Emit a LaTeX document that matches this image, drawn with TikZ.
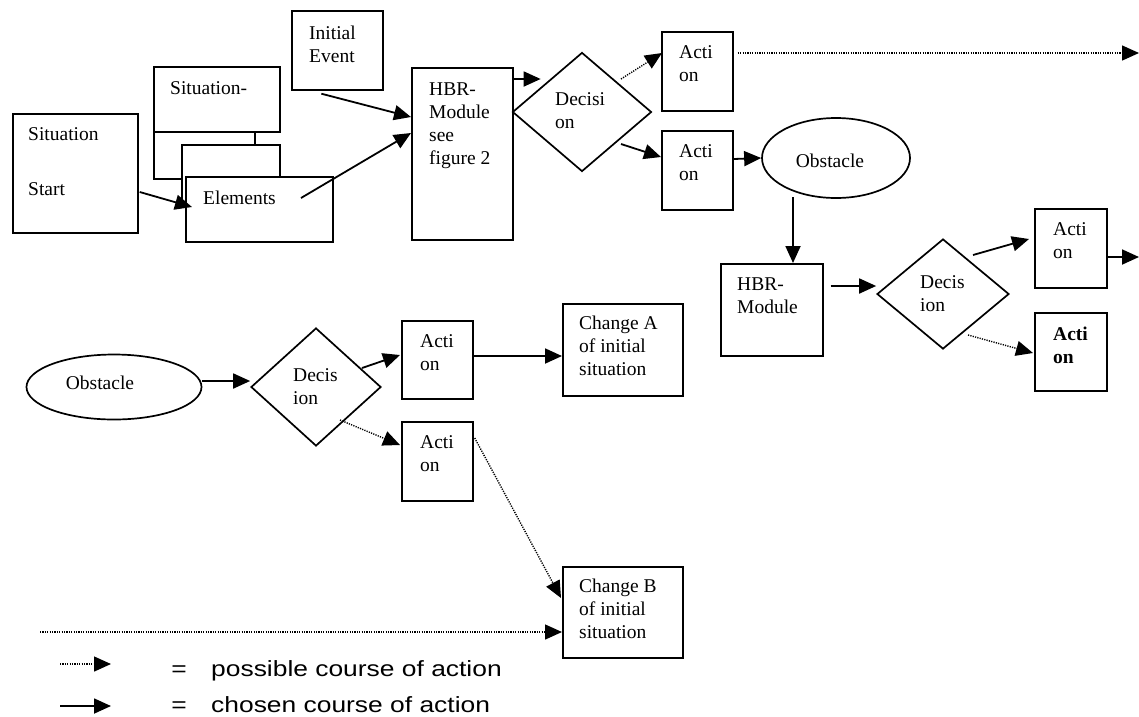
\documentclass[tikz,border=0pt]{standalone}
\usepackage{fontspec}
\setmainfont{Liberation Serif}
\newfontfamily\legendfont{Liberation Sans}
\usetikzlibrary{shapes.geometric,arrows.meta,calc}
\newcommand\mlines[1]{\vtop{\baselineskip=23pt\relax#1}}
\begin{document}
\begin{tikzpicture}[x=1pt,y=-1pt,
  font=\fontsize{19.5}{23}\selectfont,
  box/.style={draw, line width=1.7pt, fill=white, inner sep=0pt, anchor=north west},
  dia/.style={draw, diamond, line width=1.7pt, inner sep=0pt, fill=white},
  ell/.style={draw, ellipse, line width=1.7pt, inner sep=0pt, fill=white},
  txt/.style={inner sep=0pt, anchor=base west},
  chosen/.style={line width=1.8pt, -{Triangle[length=17pt,width=15pt]}},
  possible/.style={line width=1.4pt, dash pattern=on 1.2pt off 1.2pt, -{Triangle[length=17pt,width=15pt]}},
  legtxt/.style={inner sep=0pt, font=\legendfont\fontsize{22}{25}\selectfont}]
\useasboundingbox[fill=white] (0,0) rectangle (1139,716);

% ---- upper left cluster
\node[box, minimum width=125pt, minimum height=119pt] (start) at (12,113) {};
\node[txt] (tstart1) at (28,140) {Situation};
\node[txt] (tstart2) at (28,195) {Start};
\node[box, minimum width=101pt, minimum height=78pt] (sitback) at (153,100) {};
\node[box, minimum width=126pt, minimum height=65pt] (sit) at (153,66) {};
\node[txt] (tsit) at (170,94) {Situation-};
\node[box, minimum width=98pt, minimum height=62pt] (mid) at (181,144) {};
\node[box, minimum width=147pt, minimum height=65pt] (elem) at (185,176) {};
\node[txt] (telem) at (203,204) {Elements};
\node[box, minimum width=91pt, minimum height=79pt] (init) at (291,10) {};
\node[txt] (tinit) at (309,39.5) {\mlines{\hbox{Initial}\hbox{Event}}};
\node[box, minimum width=101pt, minimum height=172pt] (hbr1) at (411,67) {};
\node[txt] (thbr1) at (429,95) {\mlines{\hbox{HBR-}\hbox{Module}\hbox{see}\hbox{figure 2}}};
\node[dia, minimum width=139pt, minimum height=119pt] (dec1) at (582,112) {};
\node[txt] (tdec1) at (555,105) {\mlines{\hbox{Decisi}\hbox{on}}};
\node[box, minimum width=71pt, minimum height=79pt] (act1) at (661,31) {};
\node[txt] (tact1) at (679,58) {\mlines{\hbox{Acti}\hbox{on}}};
\node[box, minimum width=71pt, minimum height=79pt] (act2) at (661,130) {};
\node[txt] (tact2) at (679,157) {\mlines{\hbox{Acti}\hbox{on}}};
\node[ell, minimum width=148pt, minimum height=80pt] (obs1) at (836,158) {};
\node[inner sep=0pt, anchor=base] (tobs1) at (830,167) {Obstacle};

% ---- right part
\node[box, minimum width=102pt, minimum height=92pt] (hbr2) at (720,263) {};
\node[txt] (thbr2) at (737,290) {\mlines{\hbox{HBR-}\hbox{Module}}};
\node[dia, minimum width=132pt, minimum height=110pt] (dec2) at (943,294) {};
\node[txt] (tdec2) at (920,288) {\mlines{\hbox{Decis}\hbox{ion}}};
\node[box, minimum width=72pt, minimum height=79pt] (act3) at (1034,208) {};
\node[txt] (tact3) at (1053,235) {\mlines{\hbox{Acti}\hbox{on}}};
\node[box, line width=2.4pt, minimum width=72pt, minimum height=78pt] (act4) at (1034,312) {};
\node[txt, font=\fontsize{19.5}{23}\selectfont\bfseries] (tact4) at (1053,340) {\mlines{\hbox{Acti}\hbox{on}}};

% ---- lower left
\node[ell, minimum width=175pt, minimum height=65pt] (obs2) at (114,387) {};
\node[inner sep=0pt, anchor=base] (tobs2) at (100,389) {Obstacle};
\node[dia, minimum width=130pt, minimum height=118pt] (dec3) at (316,387) {};
\node[txt] (tdec3) at (293,381) {\mlines{\hbox{Decis}\hbox{ion}}};
\node[box, minimum width=71pt, minimum height=78pt] (act5) at (401,320) {};
\node[txt] (tact5) at (420,347) {\mlines{\hbox{Acti}\hbox{on}}};
\node[box, minimum width=120pt, minimum height=92pt] (chA) at (562,303) {};
\node[txt] (tchA) at (579,329) {\mlines{\hbox{Change A}\hbox{of initial}\hbox{situation}}};
\node[box, minimum width=71pt, minimum height=79pt] (act6) at (401,421) {};
\node[txt] (tact6) at (420,448) {\mlines{\hbox{Acti}\hbox{on}}};
\node[box, minimum width=120pt, minimum height=91pt] (chB) at (562,566) {};
\node[txt] (tchB) at (579,592) {\mlines{\hbox{Change B}\hbox{of initial}\hbox{situation}}};

% ---- free ends
\coordinate (outR1) at (1139,53);
\coordinate (outR2) at (1139,257);
\coordinate (inL) at (40,632);

% ---- connectors
\draw[chosen] ($(start.north east)+(1,79)$) -- ($(elem.north west)+(7,31)$);
\draw[chosen] ($(init.south)+(-16,3)$) -- ($(hbr1.north west)+(0,50)$);
\draw[chosen] ($(elem.north west)+(116,22)$) -- ($(hbr1.north west)+(0,66)$);
\draw[chosen] ($(hbr1.north east)+(0,12)$) -- ($(dec1.west)+(29,-33)$);
\draw[possible] ($(dec1.center)+(39,-33)$) -- ($(act1.north west)+(1,22)$);
\draw[chosen] ($(dec1.center)+(39,32)$) -- ($(act2.north west)+(0,27)$);
\draw[possible] ($(act1.north east)+(4,22)$) -- (outR1);
\draw[chosen] ($(act2.north east)+(0,29)$) -- (obs1.west);
\draw[chosen] ($(obs1.center)+(-43,39)$) -- ($(hbr2.north west)+(73,0)$);
\draw[chosen] ($(hbr2.north east)+(7,23)$) -- ($(dec2.west)+(0,-8)$);
\draw[chosen] ($(dec2.center)+(30,-39)$) -- ($(act3.north west)+(-5,31)$);
\draw[chosen] ($(act3.north east)+(0,49)$) -- (outR2);
\draw[possible] ($(dec2.center)+(25,41)$) -- ($(act4.north west)+(-1,41)$);
\draw[chosen] ($(obs2.east)+(0,-6)$) -- ($(dec3.west)+(0,-6)$);
\draw[chosen] ($(dec3.center)+(46,-19)$) -- ($(act5.north west)+(-1,35)$);
\draw[possible] ($(dec3.center)+(24,33)$) -- ($(act6.north west)+(-1,24)$);
\draw[chosen] ($(act5.north east)+(0,36)$) -- ($(chA.north west)+(0,53)$);
\draw[possible] ($(act6.north east)+(1,17)$) -- ($(chB.north west)+(-1,32)$);
\draw[possible] (inL) -- ($(chB.north west)+(0,66)$);

% ---- legend
\coordinate (lg1a) at (60,664);
\coordinate (lg1b) at (111,664);
\coordinate (lg2a) at (60,706);
\coordinate (lg2b) at (111,706);
\draw[possible] (lg1a) -- (lg1b);
\draw[chosen] (lg2a) -- (lg2b);
\node[legtxt, anchor=base] (eq1) at (179,676) {\scalebox{1.2}[1]{=}};
\node[legtxt, anchor=base west] (lgt1) at (211,676) {\scalebox{1.2}[1]{possible course of action}};
\node[legtxt, anchor=base] (eq2) at (179,712) {\scalebox{1.2}[1]{=}};
\node[legtxt, anchor=base west] (lgt2) at (211,712) {\scalebox{1.2}[1]{chosen course of action}};
\end{tikzpicture}
\end{document}
